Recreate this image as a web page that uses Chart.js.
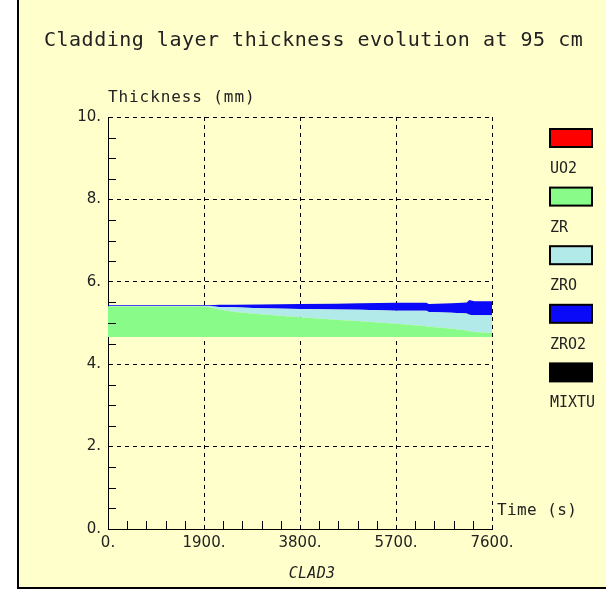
<!DOCTYPE html>
<html>
<head>
<meta charset="utf-8">
<script src="https://cdn.jsdelivr.net/npm/chart.js@4.4.1/dist/chart.umd.min.js"></script>
<style>
  html, body { margin: 0; padding: 0; background: #fff; }
  #frame { position: absolute; left: 17px; top: -2px; width: 600px; height: 587px; background: #ffffcc; border: 2px solid #000; }
  #wrap { position: absolute; left: 0; top: 0; width: 606px; height: 590px; }
</style>
</head>
<body>
<div id="frame"></div>
<div id="wrap"><canvas id="grafica" width="606" height="590"></canvas></div>
<script>
// time axis (s) and layer boundaries (mm)
const times    = [0,    600,  1200, 1900, 2000, 2200, 2500, 3000, 3800, 4500, 5000, 5700, 6300, 6350, 6800, 7100, 7150, 7250, 7600];
const zrBottom = [4.66, 4.66, 4.66, 4.66, 4.66, 4.66, 4.66, 4.66, 4.66, 4.66, 4.66, 4.66, 4.66, 4.66, 4.66, 4.66, 4.66, 4.66, 4.66];
const zrTop    = [5.40, 5.40, 5.40, 5.40, 5.38, 5.33, 5.27, 5.21, 5.14, 5.08, 5.04, 4.98, 4.92, 4.91, 4.86, 4.82, 4.80, 4.78, 4.76];
const zroTop   = [5.41, 5.41, 5.41, 5.41, 5.41, 5.39, 5.38, 5.36, 5.34, 5.33, 5.32, 5.30, 5.30, 5.27, 5.25, 5.23, 5.20, 5.19, 5.19];
const zro2Top  = [5.43, 5.43, 5.43, 5.43, 5.43, 5.44, 5.44, 5.45, 5.46, 5.47, 5.48, 5.49, 5.49, 5.46, 5.48, 5.50, 5.56, 5.53, 5.53];

const legendNames  = ["UO2", "ZR", "ZRO", "ZRO2", "MIXTU"];
const legendColors = ["#ff0000", "#88fb88", "#b2e9e9", "#0a0af8", "#000000"];

const xMax = 7600, xMajor = 1900, xMinor = 380;
const yMax = 10, yMajor = 2, yMinor = 0.5;

function pts(ys) {
    return times.map((t, i) => ({ x: t, y: ys[i] }));
}

function band(label, ys, color) {
    return {
        label: label,
        data: pts(ys),
        backgroundColor: color,
        borderWidth: 0,
        pointRadius: 0,
        fill: "-1",
        tension: 0
    };
}

function text(ctx, s, x, y, font, spacing, align) {
    ctx.font = font;
    ctx.letterSpacing = spacing || "0px";
    ctx.textAlign = align || "left";
    ctx.textBaseline = "alphabetic";
    ctx.fillText(s, x, y);
}

// minor ticks, titles and the box legend
const decor = {
    id: "decor",
    afterDraw(chart) {
        const { ctx, chartArea: a, scales: { x, y } } = chart;
        ctx.save();
        ctx.strokeStyle = "#000";
        ctx.lineWidth = 1;
        ctx.beginPath();
        for (let v = xMinor; v < xMax; v += xMinor) {
            if (v % xMajor === 0) continue;
            const px = Math.round(x.getPixelForValue(v)) + 0.5;
            ctx.moveTo(px, a.bottom);
            ctx.lineTo(px, a.bottom - 8);
        }
        for (let v = yMinor; v < yMax; v += yMinor) {
            if (v % yMajor === 0) continue;
            const py = Math.round(y.getPixelForValue(v)) + 0.5;
            ctx.moveTo(a.left, py);
            ctx.lineTo(a.left + 8, py);
        }
        ctx.stroke();

        ctx.fillStyle = "#222";
        text(ctx, "Cladding layer thickness evolution at 95 cm", 44, 46, '20px "DejaVu Sans Mono"', "0.5px");
        text(ctx, "Thickness (mm)", 108, 102, '16px "DejaVu Sans Mono"', "0.9px");
        text(ctx, "Time (s)", 497, 515, '16px "DejaVu Sans Mono"', "0.4px");
        text(ctx, "CLAD3", 312, 578, 'italic 15px "DejaVu Sans Mono"', "0.3px", "center");

        legendNames.forEach((name, i) => {
            const top = 129 + i * 58.6;
            ctx.fillStyle = legendColors[i];
            ctx.fillRect(550, top, 42, 18);
            ctx.lineWidth = 2;
            ctx.strokeStyle = "#000";
            ctx.strokeRect(550, top, 42, 18);
            ctx.fillStyle = "#222";
            text(ctx, name, 550, top + 44, '15px "DejaVu Sans Mono"', "0px");
        });
        ctx.restore();
    }
};

Chart.defaults.font.family = "DejaVu Sans";
Chart.defaults.font.size = 15;
Chart.defaults.color = "#222";

let ctx = document.getElementById("grafica").getContext("2d");
new Chart(ctx, {
    type: "line",
    data: {
        datasets: [
            { label: "base", data: pts(zrBottom), borderWidth: 0, pointRadius: 0, fill: false },
            band("ZR", zrTop, legendColors[1]),
            band("ZRO", zroTop, legendColors[2]),
            band("ZRO2", zro2Top, legendColors[3])
        ]
    },
    options: {
        responsive: false,
        animation: false,
        layout: { padding: { top: 117, right: 114, bottom: 0, left: 0 } },
        plugins: {
            legend: { display: false },
            title: { display: false },
            tooltip: { enabled: false }
        },
        scales: {
            x: {
                type: "linear",
                min: 0,
                max: xMax,
                afterFit: s => { s.height = 61; },
                ticks: {
                    stepSize: xMajor,
                    padding: 5,
                    maxRotation: 0,
                    callback: v => v + "."
                },
                grid: { color: "#000", lineWidth: 1, drawTicks: false },
                border: { display: true, color: "#000", width: 1, dash: [4, 4] }
            },
            y: {
                min: 0,
                max: yMax,
                afterFit: s => { s.width = 108; },
                ticks: {
                    stepSize: yMajor,
                    padding: 7,
                    callback: v => v + "."
                },
                grid: { color: "#000", lineWidth: 1, drawTicks: false },
                border: { display: true, color: "#000", width: 1, dash: [4, 4] }
            }
        }
    },
    plugins: [decor]
});
</script>
</body>
</html>
